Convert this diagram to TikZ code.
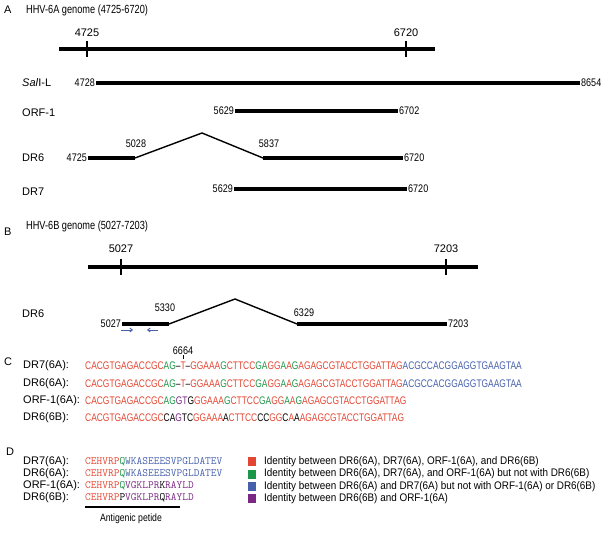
\documentclass[tikz,border=0pt]{standalone}
\usepackage{fontspec}
\setmainfont{Liberation Sans}
\newfontfamily\narrowfont{Liberation Sans}[FakeStretch=0.82]
\newfontfamily\titlefont{Liberation Sans}[FakeStretch=0.78]
\newfontfamily\keyfont{Liberation Sans}[FakeStretch=0.9]
\newfontfamily\seqfont{Liberation Sans}[FakeStretch=0.765]
\usepackage{tikz}
\usetikzlibrary{arrows.meta, positioning, calc}
\definecolor{idred}{RGB}{228,70,52}
\definecolor{idgreen}{RGB}{28,150,72}
\definecolor{idblue}{RGB}{70,96,172}
\definecolor{idpurple}{RGB}{122,40,132}
\newcommand{\cR}[1]{\textcolor{idred}{#1}}
\newcommand{\cG}[1]{\textcolor{idgreen}{#1}}
\newcommand{\cB}[1]{\textcolor{idblue}{#1}}
\newcommand{\cP}[1]{\textcolor{idpurple}{#1}}
\tikzset{
  genome/.style={line width=4pt},
  gtick/.style={line width=2pt},
  exon/.style={line width=3.6pt},
  intron/.style={line width=1.4pt},
  panel/.style={font=\fontsize{11}{12}\selectfont, anchor=west, inner sep=0pt},
  title/.style={font=\titlefont\fontsize{11.8}{12}\selectfont, anchor=west, inner sep=0pt},
  rowlab/.style={font=\fontsize{11}{12}\selectfont, anchor=west, inner sep=0pt},
  ticklab/.style={font=\fontsize{11}{12}\selectfont, inner sep=0pt},
  poslab/.style={font=\narrowfont\fontsize{11}{12}\selectfont, inner sep=1pt},
  seq/.style={font=\seqfont\fontsize{11}{12}\selectfont, anchor=west, inner sep=0pt},
  pep/.style={font=\ttfamily\fontsize{11.1}{12}\selectfont, anchor=west, inner sep=0pt},
  keybox/.style={minimum width=8pt, minimum height=9pt, inner sep=0pt},
  keytext/.style={font=\keyfont\fontsize{11}{12}\selectfont, anchor=west, inner sep=0pt},
  primer/.style={-{Straight Barb[length=2.5pt,width=4pt]}, idblue, line width=0.9pt},
}

\begin{document}
\begin{tikzpicture}[x=1pt,y=-1pt]
\useasboundingbox (0,0) rectangle (607,534);

% A: HHV-6A
\node[panel] (pA) at (4,10) {A};
\node[title] (tA) at (26,10) {HHV-6A genome (4725-6720)};
\coordinate (ga1) at (59,49);
\coordinate (ga2) at (435,49);
\draw[genome] (ga1) -- (ga2);
\foreach \x/\n in {87/4725, 406/6720} {
  \draw[gtick] (\x,41) -- (\x,57);
  \node[ticklab] (tka\n) at (\x,33) {\n};
}

\node[rowlab] (sal) at (22,83) {\textit{Sal}I-L};
\coordinate (sal1) at (96,83);
\coordinate (sal2) at (580,83);
\draw[exon] (sal1) -- (sal2);
\node[poslab, left] (sal1n) at (sal1) {4728};
\node[poslab, right] (sal2n) at (sal2) {8654};

\node[rowlab] (orf) at (22,113) {ORF-1};
\coordinate (orf1) at (235,111);
\coordinate (orf2) at (398,111);
\draw[exon] (orf1) -- (orf2);
\node[poslab, left] (orf1n) at (orf1) {5629};
\node[poslab, right] (orf2n) at (orf2) {6702};

\node[rowlab] (dra) at (22,158) {DR6};
\coordinate (dra1) at (88,158);
\coordinate (dra2) at (135,158);
\coordinate (dra3) at (202,133);
\coordinate (dra4) at (263,158);
\coordinate (dra5) at (403,158);
\draw[exon] (dra1) -- (dra2);
\draw[intron] (dra2) -- (dra3) -- (dra4);
\draw[exon] (dra4) -- (dra5);
\node[poslab, left] (dra1n) at (dra1) {4725};
\node[poslab] (dra2n) at (136,144) {5028};
\node[poslab] (dra4n) at (269,144) {5837};
\node[poslab, right] (dra5n) at (dra5) {6720};

\node[rowlab] (drs) at (22,192) {DR7};
\coordinate (drs1) at (234,189);
\coordinate (drs2) at (407,189);
\draw[exon] (drs1) -- (drs2);
\node[poslab, left] (drs1n) at (drs1) {5629};
\node[poslab, right] (drs2n) at (drs2) {6720};

% B: HHV-6B
\node[panel] (pB) at (4,232) {B};
\node[title] (tB) at (26,226) {HHV-6B genome (5027-7203)};
\coordinate (gb1) at (88,267);
\coordinate (gb2) at (478,267);
\draw[genome] (gb1) -- (gb2);
\foreach \x/\n in {121/5027, 446/7203} {
  \draw[gtick] (\x,259) -- (\x,275);
  \node[ticklab] (tkb\n) at (\x,249) {\n};
}

\node[rowlab] (drb) at (22,314) {DR6};
\coordinate (drb1) at (122,324);
\coordinate (drb2) at (169,324);
\coordinate (drb3) at (235,299);
\coordinate (drb4) at (297,324);
\coordinate (drb5) at (447,324);
\draw[exon] (drb1) -- (drb2);
\draw[intron] (drb2) -- (drb3) -- (drb4);
\draw[exon] (drb4) -- (drb5);
\node[poslab, left] (drb1n) at (drb1) {5027};
\node[poslab] (drb2n) at (165,308) {5330};
\node[poslab] (drb4n) at (304,313) {6329};
\node[poslab, right] (drb5n) at (drb5) {7203};
% primers
\coordinate (pf1) at (121,330);
\coordinate (pf2) at (133,330);
\coordinate (pr1) at (158,330);
\coordinate (pr2) at (147,330);
\draw[primer] (pf1) -- (pf2);
\draw[primer] (pr1) -- (pr2);

% C: nucleotides
\node[panel] (pC) at (4,362) {C};
\node[poslab] (mk) at (183,351) {6664};
\draw[line width=0.6pt] (183,355) -- (183,359);
\node[rowlab] (c1) at (23,366) {DR7(6A):};
\node[rowlab] (c2) at (23,384) {DR6(6A):};
\node[rowlab] (c3) at (23,401) {ORF-1(6A):};
\node[rowlab] (c4) at (23,418) {DR6(6B):};
\node[seq] (s1) at (85,366) {\cR{CACGTGAGACCGC}\cG{AG}\textendash\cR{T}\textendash\cR{GGAAA}\cG{G}\cR{CTTCC}\cG{GA}\cR{GG}\cG{A}\cR{A}\cG{G}\cR{AGAGCGTACCTGGATTAG}\cB{ACGCCACGGAGGTGAAGTAA}};
\node[seq] (s2) at (85,384) {\cR{CACGTGAGACCGC}\cG{AG}\textendash\cR{T}\textendash\cR{GGAAA}\cG{G}\cR{CTTCC}\cG{GA}\cR{GG}\cG{A}\cR{A}\cG{G}\cR{AGAGCGTACCTGGATTAG}\cB{ACGCCACGGAGGTGAAGTAA}};
\node[seq] (s3) at (85,401) {\cR{CACGTGAGACCGC}\cG{AG}\cP{GT}G\cR{GGAAA}\cG{G}\cR{CTTCC}\cG{GA}\cR{GG}\cG{A}\cR{A}\cG{G}\cR{AGAGCGTACCTGGATTAG}};
\node[seq] (s4) at (85,418) {\cR{CACGTGAGACCGC}CA\cP{G}TC\cR{GGAAA}A\cR{CTTCC}CC\cR{GG}C\cR{A}A\cR{AGAGCGTACCTGGATTAG}};

% D: peptides
\node[panel] (pD) at (6,452) {D};
\node[rowlab] (d1) at (23,462) {DR7(6A):};
\node[rowlab] (d2) at (23,474) {DR6(6A):};
\node[rowlab] (d3) at (23,486) {ORF-1(6A):};
\node[rowlab] (d4) at (23,498) {DR6(6B):};
\node[pep] (p1) at (85,462) {\cR{CEHVRP}\cG{Q}\cB{WKASEEESVPGLDATEV}};
\node[pep] (p2) at (85,474) {\cR{CEHVRP}\cG{Q}\cB{WKASEEESVPGLDATEV}};
\node[pep] (p3) at (85,486) {\cR{CEHVRP}\cG{Q}\cP{VGKLPR}K\cP{RAYLD}};
\node[pep] (p4) at (85,498) {\cR{CEHVRP}P\cP{VGKLPR}Q\cP{RAYLD}};
\coordinate (ag1) at (85,507);
\coordinate (ag2) at (180,507);
\draw[line width=2pt] (ag1) -- (ag2);
\node[font=\narrowfont\fontsize{10.6}{11}\selectfont, inner sep=0pt] (agl) at (131,519) {Antigenic petide};

% legend
\foreach \c/\t [count=\i] in {idred/{Identity between DR6(6A), DR7(6A), ORF-1(6A), and DR6(6B)},
    idgreen/{Identity between DR6(6A), DR7(6A), and ORF-1(6A) but not with DR6(6B)},
    idblue/{Identity between DR6(6A) and DR7(6A) but not with ORF-1(6A) or DR6(6B)},
    idpurple/{Identity between DR6(6B) and ORF-1(6A)}} {
  \node[keybox, fill=\c] (k\i) at (252,449.5+12.3*\i) {};
  \node[keytext] (kt\i) at (264,449.5+12.3*\i) {\t};
}
\end{tikzpicture}
\end{document}
